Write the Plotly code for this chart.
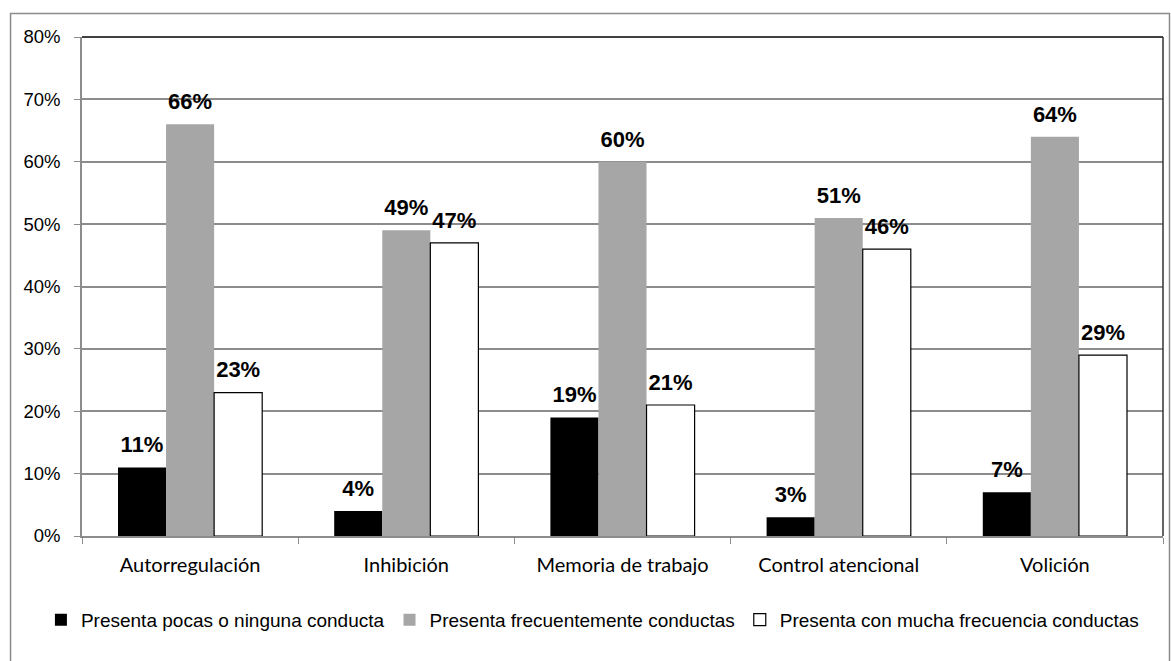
import plotly.graph_objects as go

# Dimensiones evaluadas y porcentaje de cada nivel de frecuencia
categorias = ["Autorregulación", "Inhibición", "Memoria de trabajo",
              "Control atencional", "Volición"]
series_nombres = ["Presenta pocas o ninguna conducta",
                  "Presenta frecuentemente conductas",
                  "Presenta con mucha frecuencia conductas"]
pocas = [11, 4, 19, 3, 7]
frecuente = [66, 49, 60, 51, 64]
mucha = [23, 47, 21, 46, 29]
y_ticks = [0, 10, 20, 30, 40, 50, 60, 70, 80]
y_tick_text = [f"{v}%" for v in y_ticks]

valores = [pocas, frecuente, mucha]
rellenos = ["#000000", "#a6a6a6", "#ffffff"]
bordes = ["#000000", "#a6a6a6", "#000000"]
bordes_ancho = [0, 0, 1.2]

GRIS = "#8c8c8c"
ARIAL = "Liberation Sans, Arial, sans-serif"

fig = go.Figure()

for i in range(3):
    fig.add_trace(go.Bar(
        x=categorias, y=valores[i], name=series_nombres[i],
        offsetgroup=str(i),
        marker=dict(color=rellenos[i],
                    line=dict(color=bordes[i], width=bordes_ancho[i])),
        hoverinfo="skip",
    ))

# Etiquetas de valor encima de cada barra
for i in range(3):
    fig.add_trace(go.Scatter(
        x=categorias, y=valores[i], mode="markers+text",
        offsetgroup=str(i),
        text=[f"{v}%" for v in valores[i]],
        textposition="top center",
        textfont=dict(family=ARIAL, size=22, color="#000000", weight="bold"),
        marker=dict(size=14, opacity=0),
        showlegend=False, hoverinfo="skip", cliponaxis=False,
    ))

fig.update_layout(
    width=1171, height=661,
    margin=dict(l=82, r=8, t=37, b=125),
    paper_bgcolor="#ffffff", plot_bgcolor="#ffffff",
    barmode="group", bargap=0.333, bargroupgap=0,
    scattermode="group", scattergap=0.333,
    showlegend=True,
    legend=dict(orientation="h", x=-0.038, xanchor="left",
                y=-0.168, yanchor="middle",
                font=dict(family=ARIAL, size=19, color="#000000"),
                itemwidth=30, traceorder="normal"),
    font=dict(family=ARIAL, color="#000000"),
)

fig.update_xaxes(
    type="category", showgrid=False,
    showline=True, linecolor=GRIS, linewidth=1.5,
    ticks="outside", tickson="boundaries", ticklen=6, tickcolor=GRIS,
    ticklabelstandoff=10,
    tickfont=dict(family="Lato, Carlito, sans-serif", size=20, color="#000000"),
)
fig.update_yaxes(
    range=[0, 80], tickmode="array", tickvals=y_ticks, ticktext=y_tick_text,
    showgrid=True, gridcolor=GRIS, gridwidth=1.5,
    showline=True, linecolor=GRIS, linewidth=1.5,
    ticks="outside", ticklen=6, tickcolor=GRIS,
    ticklabelstandoff=10,
    tickfont=dict(family=ARIAL, size=18.5, color="#000000"),
    zeroline=False,
)

# Borde oscuro superior y derecho del área de trazado
fig.add_shape(type="line", xref="paper", yref="paper", x0=0, x1=1, y0=1, y1=1,
              line=dict(color="#000000", width=1.5), layer="above")
fig.add_shape(type="line", xref="paper", yref="paper", x0=1, x1=1, y0=0, y1=1,
              line=dict(color="#333333", width=1.5), layer="above")
# Marco gris exterior del gráfico
fig.add_shape(type="rect", xref="paper", yref="paper",
              x0=-0.0661, x1=1.0060, y0=-0.27, y1=1.047,
              line=dict(color=GRIS, width=1.5), fillcolor="rgba(0,0,0,0)",
              layer="below")

fig.write_html("out.html")
